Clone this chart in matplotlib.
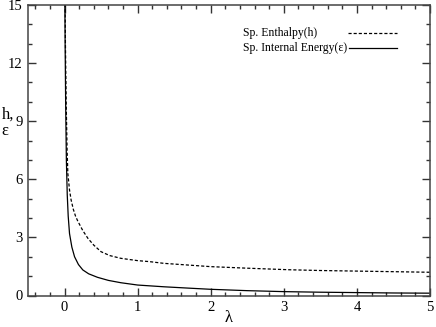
import matplotlib
matplotlib.use("Agg")
import matplotlib.pyplot as plt
from matplotlib.ticker import MultipleLocator
import numpy as np

plt.rcParams['font.family'] = ['Liberation Serif', 'DejaVu Serif']
plt.rcParams['mathtext.fontset'] = 'stix'

# values
lam_e = [0.003, 0.008, 0.015, 0.025, 0.037, 0.05, 0.068, 0.1, 0.137, 0.19, 0.25,
         0.33, 0.45, 0.6, 0.77, 1.0, 1.36, 1.7, 2.0, 2.5, 3.0, 3.5, 4.0, 4.5, 5.0]
eps = [16.0, 13.0, 10.0, 7.0, 5.2, 4.1, 3.2, 2.5, 2.0, 1.6, 1.32,
       1.12, 0.94, 0.78, 0.66, 0.54, 0.45, 0.38, 0.32, 0.25, 0.2, 0.17, 0.15, 0.13, 0.12]

lam_h = [0.006, 0.012, 0.023, 0.035, 0.045, 0.068, 0.09, 0.12, 0.15, 0.18, 0.25, 0.32,
         0.4, 0.5, 0.62, 0.77, 1.0, 1.16, 1.36, 1.7, 2.0, 2.5, 3.07, 3.5, 4.0, 4.5, 5.0]
enth = [16.0, 13.0, 9.8, 7.5, 6.3, 5.45, 4.93, 4.45, 4.1, 3.85, 3.35, 2.95,
        2.6, 2.26, 2.06, 1.92, 1.8, 1.75, 1.66, 1.57, 1.49, 1.41, 1.33, 1.29, 1.26, 1.23, 1.2]

labels = ['Sp. Enthalpy(h)', 'Sp. Internal Energy(\u03b5)']

fig = plt.figure(figsize=(4.36, 3.27), dpi=100)
ax = fig.add_axes([28/436, 31.5/327, 402/436, 290.5/327])

ax.plot(lam_h, enth, color='black', lw=0.9, dashes=(2.5, 1.6))
ax.plot(lam_e, eps, color='black', lw=0.9)

ax.set_xlim(-0.5, 5)
ax.set_ylim(0, 15)
ax.xaxis.set_major_locator(MultipleLocator(1))
ax.xaxis.set_minor_locator(MultipleLocator(0.2))
ax.yaxis.set_major_locator(MultipleLocator(3))
ax.yaxis.set_minor_locator(MultipleLocator(1))
ax.tick_params(which='both', direction='in', top=True, right=True,
               labelsize=10.5, color='#333333')
ax.tick_params(axis='x', pad=4)
ax.tick_params(axis='y', pad=4)
ax.tick_params(which='major', length=6, width=1)
ax.tick_params(which='minor', length=3, width=1)
for s in ax.spines.values():
    s.set_linewidth(1.1)
    s.set_color('#444444')

ax.set_xlabel('\u03bb', fontsize=12, va='center')
ax.xaxis.set_label_coords(0.5, -0.077)
ax.set_ylabel('h,\n\u03b5', fontsize=12, rotation=0,
              va='center', ha='left', multialignment='left', linespacing=1.05)
ax.yaxis.set_label_coords(-0.066, 0.594)

# legend drawn as text + short sample lines (xmgrace style)
ax.text(0.535, 0.904, labels[0], transform=ax.transAxes, fontsize=8.5, va='center')
ax.text(0.535, 0.852, labels[1], transform=ax.transAxes, fontsize=8.5, va='center')
ax.plot([0.796, 0.918], [0.904, 0.904], transform=ax.transAxes,
        color='black', lw=0.9, dashes=(2.5, 1.6))
ax.plot([0.798, 0.918], [0.852, 0.852], transform=ax.transAxes,
        color='black', lw=0.9)

fig.savefig('out.png', dpi=100)
